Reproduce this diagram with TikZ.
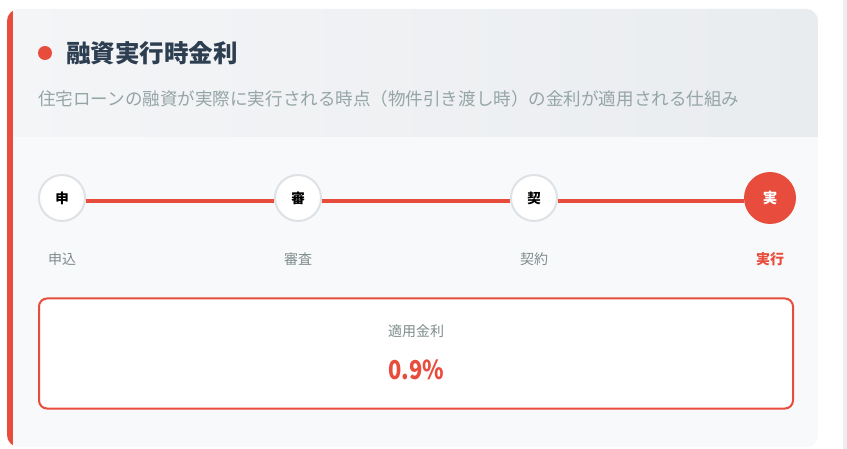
\documentclass[tikz,border=0pt]{standalone}
\usepackage{fontspec}
\setmainfont{Noto Sans CJK JP}
\definecolor{redc}{HTML}{E74C3C}
\definecolor{titlec}{HTML}{2C3E50}
\definecolor{subc}{HTML}{95A5A6}
\definecolor{lblc}{HTML}{7F8C8D}
\definecolor{ringc}{HTML}{DEE2E6}
\definecolor{bodyc}{HTML}{F8F9FA}
\definecolor{hdrL}{HTML}{F4F5F7}
\definecolor{hdrR}{HTML}{E9ECEF}
\definecolor{scrollc}{HTML}{EEEEF2}
\tikzset{
  stepdot/.style={circle, draw=ringc, line width=2pt, fill=white, minimum size=46pt, inner sep=0pt,
    font=\bfseries\fontsize{13.5}{14}\selectfont, text=black},
  stepact/.style={circle, fill=redc, minimum size=52pt, inner sep=0pt,
    font=\bfseries\fontsize{14.5}{15}\selectfont, text=white},
  steplbl/.style={font=\fontsize{14}{14}\selectfont, text=lblc, inner sep=0pt},
  redline/.style={draw=redc, line width=4pt}
}
\begin{document}
\begin{tikzpicture}[x=1pt,y=-1pt]
\useasboundingbox (0,0) rectangle (847,449);
\fill[white] (0,0) rectangle (847,449);
\fill[scrollc] (843,0) rectangle (847,449);
\begin{scope}
\clip[rounded corners=12pt] (7,9) rectangle (818,447);
\fill[bodyc] (7,9) rectangle (818,447);
\shade[left color=hdrL, right color=hdrR] (7,9) rectangle (818,137);
\fill[redc] (7,9) rectangle (12.5,447);
\end{scope}
% header
\node[circle, fill=redc, minimum size=14pt, inner sep=0pt] (dot) at (45,53) {};
\node[anchor=west, inner sep=0pt, font=\bfseries\fontsize{24.5}{25}\selectfont, text=titlec] (title) at (66,53) {融資実行時金利};
\node[anchor=west, inner sep=0pt, font=\fontsize{17.55}{18}\selectfont, text=subc] (sub) at (38,99) {住宅ローンの融資が実際に実行される時点（物件引き渡し時）の金利が適用される仕組み};
% timeline
\node[stepdot] (s1) at (62,198) {申};
\node[stepdot] (s2) at (298,198) {審};
\node[stepdot] (s3) at (534,198) {契};
\node[stepact] (s4) at (770,198) {実};
\draw[redline] ([yshift=-3pt]s1.east) -- ([yshift=-3pt]s2.west);
\draw[redline] ([yshift=-3pt]s2.east) -- ([yshift=-3pt]s3.west);
\draw[redline] ([yshift=-3pt]s3.east) -- ([yshift=-3pt]s4.west);
\node[steplbl] (l1) at (62,259) {申込};
\node[steplbl] (l2) at (298,259) {審査};
\node[steplbl] (l3) at (534,259) {契約};
\node[steplbl, text=redc, font=\bfseries\fontsize{14}{14}\selectfont] (l4) at (770,259) {実行};
% rate box
\node[draw=redc, line width=2pt, rounded corners=8pt, fill=white, minimum width=754pt, minimum height=110pt, inner sep=0pt] (box) at (416,353.5) {};
\node[font=\fontsize{14}{14}\selectfont, text=lblc, inner sep=0pt] (rl) at (416,331) {適用金利};
\node[font=\bfseries\fontsize{26}{26}\selectfont, text=redc, inner sep=0pt] (rv) at (416,370) {\scalebox{0.84}[1]{0.9\%}};
\end{tikzpicture}
\end{document}
